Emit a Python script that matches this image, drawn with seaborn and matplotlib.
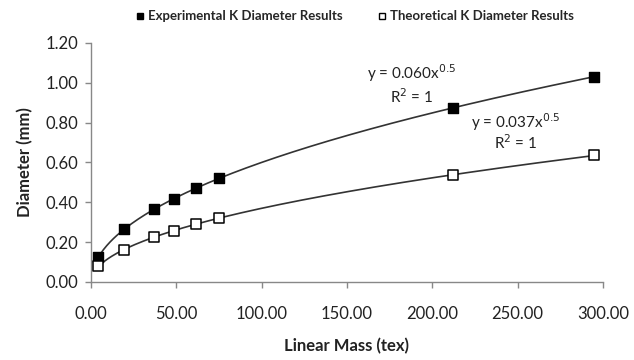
import numpy as np
import pandas as pd
import seaborn as sns
import matplotlib.pyplot as plt
from matplotlib.lines import Line2D

# linear mass (tex) and measured/theoretical diameters (mm)
linear_mass = [4.4, 19.5, 37.0, 48.6, 61.5, 75.0, 212.0, 295.0]
exp_diam = [0.126, 0.265, 0.365, 0.418, 0.471, 0.520, 0.874, 1.031]
theo_diam = [0.078, 0.163, 0.225, 0.258, 0.290, 0.320, 0.539, 0.636]
series_names = ["Experimental K Diameter Results", "Theoretical K Diameter Results"]
xticks = [0, 50, 100, 150, 200, 250, 300]
yticks = [0.0, 0.2, 0.4, 0.6, 0.8, 1.0, 1.2]

sns.set_style("white")
plt.rcParams['font.family'] = ['Lato', 'DejaVu Sans']

fig = plt.figure(figsize=(6.34, 3.6), dpi=100)
ax = fig.add_axes([0.1435, 0.2167, 0.8075, 0.664])

def power_fit(x, y):
    b, loga = np.polyfit(np.log(x), np.log(y), 1)
    return np.exp(loga), b

xs = np.linspace(min(linear_mass), max(linear_mass), 300)
fits = []
for ys in (exp_diam, theo_diam):
    a, b = power_fit(np.array(linear_mass), np.array(ys))
    fits.append((a, b))
    trend = pd.DataFrame({"x": xs, "y": a * xs ** b})
    sns.lineplot(data=trend, x="x", y="y", ax=ax, color="#333333", lw=1.2, zorder=2)

df_e = pd.DataFrame({"x": linear_mass, "y": exp_diam})
df_t = pd.DataFrame({"x": linear_mass, "y": theo_diam})
sns.scatterplot(data=df_e, x="x", y="y", ax=ax, marker="s", s=48, color="black",
                edgecolor="black", linewidth=1, zorder=3)
sns.scatterplot(data=df_t, x="x", y="y", ax=ax, marker="s", s=48, color="white",
                edgecolor="black", linewidth=1.1, zorder=3)

ax.set_xlim(0, 300)
ax.set_ylim(0, 1.2)
ax.set_xticks(xticks)
ax.set_yticks(yticks)
ax.set_xticklabels([f"{v:.2f}" for v in xticks], fontsize=12)
ax.set_yticklabels([f"{v:.2f}" for v in yticks], fontsize=12)
ax.tick_params(axis="both", direction="out", length=4, width=1, color="#888888",
               pad=5, left=True, bottom=True, labelcolor="#222222")
ax.tick_params(axis="x", pad=13)
for s in ("top", "right"):
    ax.spines[s].set_visible(False)
for s in ("left", "bottom"):
    ax.spines[s].set_color("#888888")
    ax.spines[s].set_linewidth(1)

ax.set_xlabel("Linear Mass (tex)", fontsize=12, fontweight="bold", labelpad=12, color="#222222")
ax.set_ylabel("Diameter (mm)", fontsize=12, fontweight="bold", labelpad=9, color="#222222")

ann_pos = [(188, 1.05, 0.93), (249, 0.80, 0.70)]
for (a, b), (xp, y1, y2) in zip(fits, ann_pos):
    ax.text(xp, y1, f"y = {a:.3f}x$^{{{b:.1f}}}$", ha="center", va="center", fontsize=11,
            color="#222222")
    ax.text(xp, y2, "R$^2$ = 1", ha="center", va="center", fontsize=11, color="#222222")

handles = [Line2D([], [], marker="s", ls="", color="black", markersize=5),
           Line2D([], [], marker="s", ls="", markerfacecolor="white",
                  markeredgecolor="black", markersize=5)]
fig.legend(handles, series_names, loc="center", bbox_to_anchor=(0.559, 0.955), ncol=2,
           frameon=False, prop={"weight": "bold", "size": 9.5},
           handletextpad=0.2, columnspacing=2.6, handlelength=0.8)

fig.savefig("out.png", dpi=100)
